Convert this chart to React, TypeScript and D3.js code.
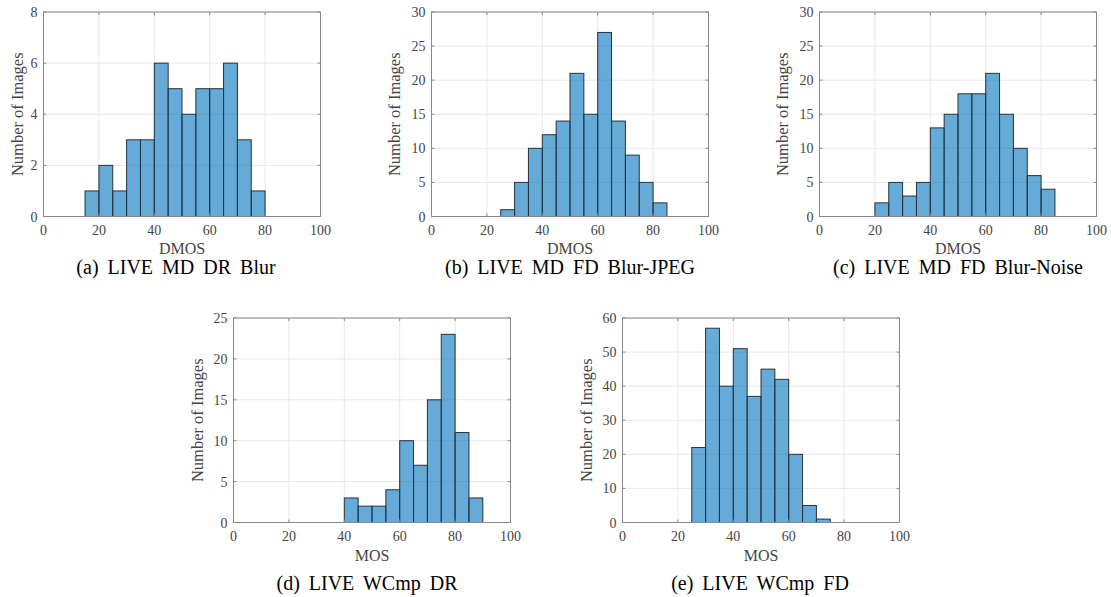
import React from "react";
import * as d3 from "d3";

const binEdgesA = [15, 20, 25, 30, 35, 40, 45, 50, 55, 60, 65, 70, 75, 80];
const countsA = [1, 2, 1, 3, 3, 6, 5, 4, 5, 5, 6, 3, 1];
const binEdgesB = [25, 30, 35, 40, 45, 50, 55, 60, 65, 70, 75, 80, 85];
const countsB = [1, 5, 10, 12, 14, 21, 15, 27, 14, 9, 5, 2];
const binEdgesC = [20, 25, 30, 35, 40, 45, 50, 55, 60, 65, 70, 75, 80, 85];
const countsC = [2, 5, 3, 5, 13, 15, 18, 18, 21, 15, 10, 6, 4];
const binEdgesD = [40, 45, 50, 55, 60, 65, 70, 75, 80, 85, 90];
const countsD = [3, 2, 2, 4, 10, 7, 15, 23, 11, 3];
const binEdgesE = [25, 30, 35, 40, 45, 50, 55, 60, 65, 70, 75];
const countsE = [22, 57, 40, 51, 37, 45, 42, 20, 5, 1];

const xTicks = [0, 20, 40, 60, 80, 100];
const yTicksA = [0, 2, 4, 6, 8];
const yTicksB = [0, 5, 10, 15, 20, 25, 30];
const yTicksC = [0, 5, 10, 15, 20, 25, 30];
const yTicksD = [0, 5, 10, 15, 20, 25];
const yTicksE = [0, 10, 20, 30, 40, 50, 60];

const captions = [
  "(a) LIVE MD DR Blur",
  "(b) LIVE MD FD Blur-JPEG",
  "(c) LIVE MD FD Blur-Noise",
  "(d) LIVE WCmp DR",
  "(e) LIVE WCmp FD",
];
const xLabels = ["DMOS", "DMOS", "DMOS", "MOS", "MOS"];
const yLabel = "Number of Images";

const FONT = "'Liberation Serif', 'Times New Roman', serif";

type PanelProps = {
  left: number;
  top: number;
  width: number;
  height: number;
  edges: number[];
  counts: number[];
  yTicks: number[];
  xLabel: string;
  caption: string;
  yLabelOffset: number;
  xLabelGap: number;
  captionGap: number;
  captionShift: number;
};

function Panel(p: PanelProps) {
  const x = d3.scaleLinear().domain([0, 100]).range([p.left, p.left + p.width]);
  const yMax = p.yTicks[p.yTicks.length - 1];
  const y = d3.scaleLinear().domain([0, yMax]).range([p.top + p.height, p.top]);
  const bottom = p.top + p.height;
  const right = p.left + p.width;
  const tickLen = 3;
  const axisColor = "#8a8a8a";
  const textColor = "#454545";
  return (
    <g>
      {xTicks.map((t) => (
        <line key={"gx" + t} x1={x(t)} x2={x(t)} y1={p.top} y2={bottom} stroke="#e8e8e8" strokeWidth={1} />
      ))}
      {p.yTicks.map((t) => (
        <line key={"gy" + t} x1={p.left} x2={right} y1={y(t)} y2={y(t)} stroke="#e8e8e8" strokeWidth={1} />
      ))}
      {p.counts.map((c, i) => (
        <rect
          key={"b" + i}
          x={x(p.edges[i])}
          y={y(c)}
          width={x(p.edges[i + 1]) - x(p.edges[i])}
          height={bottom - y(c)}
          fill="#0072BD"
          fillOpacity={0.6}
          stroke="#26343f"
          strokeWidth={1}
        />
      ))}
      <rect x={p.left} y={p.top} width={p.width} height={p.height} fill="none" stroke={axisColor} strokeWidth={1} />
      {xTicks.map((t) => (
        <g key={"tx" + t}>
          <line x1={x(t)} x2={x(t)} y1={bottom} y2={bottom - tickLen} stroke={axisColor} />
          <line x1={x(t)} x2={x(t)} y1={p.top} y2={p.top + tickLen} stroke={axisColor} />
          <text x={x(t)} y={bottom + 18} textAnchor="middle" fontSize={14} fill={textColor} fontFamily={FONT}>
            {t}
          </text>
        </g>
      ))}
      {p.yTicks.map((t) => (
        <g key={"ty" + t}>
          <line x1={p.left} x2={p.left + tickLen} y1={y(t)} y2={y(t)} stroke={axisColor} />
          <line x1={right} x2={right - tickLen} y1={y(t)} y2={y(t)} stroke={axisColor} />
          <text x={p.left - 6} y={y(t) + 5} textAnchor="end" fontSize={14} fill={textColor} fontFamily={FONT}>
            {t}
          </text>
        </g>
      ))}
      <text
        x={(p.left + right) / 2}
        y={bottom + p.xLabelGap}
        textAnchor="middle"
        fontSize={16}
        fill={textColor}
        fontFamily={FONT}
      >
        {p.xLabel}
      </text>
      <text
        transform={`translate(${p.left - p.yLabelOffset},${(p.top + bottom) / 2}) rotate(-90)`}
        textAnchor="middle"
        fontSize={16.5}
        fill={textColor}
        fontFamily={FONT}
      >
        {yLabel}
      </text>
      <text
        x={(p.left + right) / 2 + p.captionShift}
        y={bottom + p.captionGap}
        textAnchor="middle"
        fontSize={20}
        wordSpacing={4}
        fill="#000"
        fontFamily={FONT}
      >
        {p.caption}
      </text>
    </g>
  );
}

export default function App() {
  const W = 1111;
  const H = 597;
  const pw = 277;
  const ph = 204.5;
  const topRow = 12;
  const botRow = 318;
  return (
    <svg width={W} height={H} style={{ position: "absolute", left: 0, top: 0, background: "#fff" }}>
      <Panel left={43.5} top={topRow} width={pw} height={ph} edges={binEdgesA} counts={countsA} yTicks={yTicksA}
        xLabel={xLabels[0]} caption={captions[0]} yLabelOffset={21} xLabelGap={37} captionGap={57} captionShift={-6} />
      <Panel left={431.5} top={topRow} width={pw} height={ph} edges={binEdgesB} counts={countsB} yTicks={yTicksB}
        xLabel={xLabels[1]} caption={captions[1]} yLabelOffset={32} xLabelGap={37} captionGap={57} captionShift={0} />
      <Panel left={819.5} top={topRow} width={pw} height={ph} edges={binEdgesC} counts={countsC} yTicks={yTicksC}
        xLabel={xLabels[2]} caption={captions[2]} yLabelOffset={32} xLabelGap={37} captionGap={57} captionShift={0} />
      <Panel left={233.5} top={botRow} width={pw} height={ph} edges={binEdgesD} counts={countsD} yTicks={yTicksD}
        xLabel={xLabels[3]} caption={captions[3]} yLabelOffset={31} xLabelGap={38} captionGap={67} captionShift={-5} />
      <Panel left={622.5} top={botRow} width={pw} height={ph} edges={binEdgesE} counts={countsE} yTicks={yTicksE}
        xLabel={xLabels[4]} caption={captions[4]} yLabelOffset={31} xLabelGap={38} captionGap={67} captionShift={-1} />
    </svg>
  );
}
